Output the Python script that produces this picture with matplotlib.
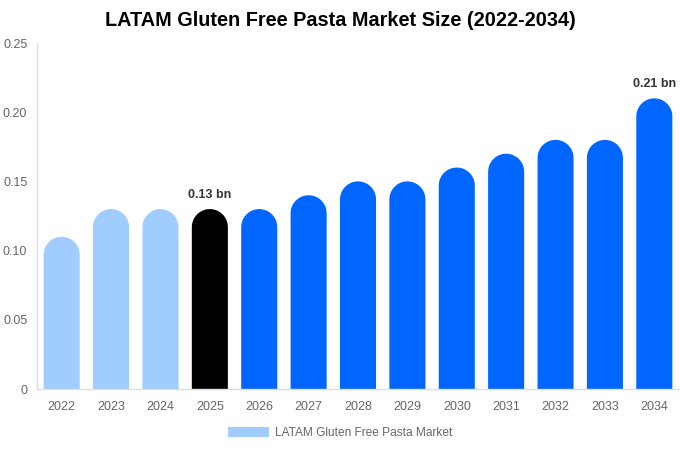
import numpy as np
import matplotlib
matplotlib.use("Agg")
import matplotlib.pyplot as plt
from matplotlib.path import Path
from matplotlib.patches import PathPatch, Patch

years = ["2022", "2023", "2024", "2025", "2026", "2027", "2028", "2029",
         "2030", "2031", "2032", "2033", "2034"]
values = [0.11, 0.13, 0.13, 0.13, 0.13, 0.14, 0.15, 0.15, 0.16, 0.17, 0.18, 0.18, 0.21]
colors = ["#a0cdfd"] * 3 + ["#000000"] + ["#0066ff"] * 9
labels = {3: "0.13 bn", 12: "0.21 bn"}
yticks = [0, 0.05, 0.10, 0.15, 0.20, 0.25]
ytick_labels = ["0", "0.05", "0.10", "0.15", "0.20", "0.25"]

plt.rcParams['font.family'] = ['Liberation Sans', 'DejaVu Sans']

fig = plt.figure(figsize=(6.8, 4.5), dpi=100)
W, H = 680, 450
ax = fig.add_axes([37 / W, (H - 389) / H, (679 - 37) / W, (389 - 43) / H])
ax.set_xlim(-0.5, len(years) - 0.5)
ax.set_ylim(0, 0.25)

bw = 0.73
# pixel -> data conversion for elliptical caps
xpp = (len(years)) / (679 - 37)
ypp = 0.25 / (389 - 43)
rx = bw / 2
ry = rx / xpp * ypp

theta = np.linspace(0, np.pi, 40)
for i, (v, c) in enumerate(zip(values, colors)):
    x0 = i - bw / 2
    x1 = i + bw / 2
    top = v - ry
    verts = [(x0, 0), (x1, 0), (x1, top)]
    verts += [(i + rx * np.cos(t), top + ry * np.sin(t)) for t in theta]
    verts += [(x0, 0)]
    codes = [Path.MOVETO] + [Path.LINETO] * (len(verts) - 2) + [Path.CLOSEPOLY]
    ax.add_patch(PathPatch(Path(verts, codes), facecolor=c, edgecolor="none"))
    if i in labels:
        ax.text(i, v + 11 * ypp, labels[i], ha="center", va="baseline",
                fontsize=9, fontweight="bold", color="#333333")

ax.set_xticks(range(len(years)))
ax.set_xticklabels(years)
ax.set_yticks(yticks)
ax.set_yticklabels(ytick_labels)
ax.tick_params(axis="both", length=0, labelsize=9, colors="#666666")
ax.tick_params(axis="x", pad=9)
ax.tick_params(axis="y", pad=7)
for s in ["top", "right"]:
    ax.spines[s].set_visible(False)
for s in ["left", "bottom"]:
    ax.spines[s].set_color("#dddddd")
    ax.spines[s].set_linewidth(1)

fig.text(340 / W, 1 - 21 / H, "LATAM Gluten Free Pasta Market Size (2022-2034)",
         ha="center", va="center", fontsize=14.3, fontweight="bold", color="#000000")

handle = Patch(facecolor="#a0cdfd", edgecolor="none")
fig.legend([handle], ["LATAM Gluten Free Pasta Market"], loc="center",
           bbox_to_anchor=(340 / W, 1 - 433 / H), frameon=False, fontsize=8.6,
           labelcolor="#666666", handlelength=3.4, handleheight=1.0, handletextpad=0.5)

fig.savefig("out.png", dpi=100)
